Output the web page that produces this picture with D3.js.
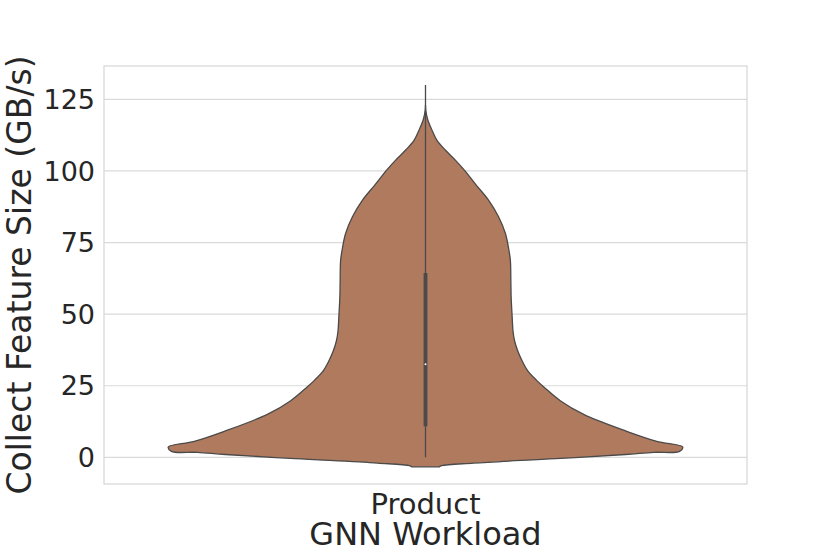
<!DOCTYPE html>
<html>
<head>
<meta charset="utf-8">
<script src="https://cdn.jsdelivr.net/npm/d3@7"></script>
<style>
  body { margin: 0; background: #fff; }
  text { font-family: "DejaVu Sans", sans-serif; fill: #262626; }
</style>
</head>
<body>
<svg id="chart" width="830" height="554"></svg>
<script>
"use strict";

// category and axis
const categories = ["Product"];
const yTicks = [0, 25, 50, 75, 100, 125];

// violin outline: value (GB/s) and relative density
const kdeValues  = [-3.3, -2.9, -2.0, -0.45, 1.0, 1.76, 2.1, 3.6, 5.6, 9.1, 15.0, 19.8, 24.5, 26.8, 30.3, 33.8,
                    37.3, 40.8, 44.3, 49.0, 55.9, 60.7, 68.8, 72.0, 78.1, 84.0, 89.8, 95.0, 100.3, 103.8,
                    107.3, 110.8, 114.3, 117.8, 121.3, 123.0];
const kdeDensity = [0.054, 0.062, 0.187, 0.506, 0.778, 0.887, 0.988, 1.0, 0.899, 0.782, 0.615, 0.524, 0.461, 0.433, 0.397, 0.375,
                    0.358, 0.346, 0.340, 0.337, 0.333, 0.332, 0.330, 0.325, 0.311, 0.284, 0.245, 0.198, 0.151, 0.116,
                    0.077, 0.044, 0.025, 0.009, 0.001, 0.0];

// inner box stats
const whiskerLow = 0;
const whiskerHigh = 130;
const q1 = 10.9;
const median = 32.5;
const q3 = 64.4;

const margin = { left: 104, right: 83, top: 66, bottom: 70 };
const W = 830, H = 554;

var svg = d3.select("#chart");

var x = d3.scaleBand()
    .domain(categories)
    .range([margin.left, W - margin.right])
    .padding(0);

var y = d3.scaleLinear()
    .domain([-9.3, 136.65])
    .range([H - margin.bottom, margin.top]);

var halfWidth = d3.scaleLinear()
    .domain([0, 1])
    .range([0, x.bandwidth() * 0.4]);

// grid
svg.append("g")
    .selectAll("line")
    .data(yTicks)
    .join("line")
        .attr("x1", margin.left)
        .attr("x2", W - margin.right)
        .attr("y1", d => y(d))
        .attr("y2", d => y(d))
        .attr("stroke", "#dadada")
        .attr("stroke-width", 1.2);

// frame
svg.append("rect")
    .attr("x", margin.left)
    .attr("y", margin.top)
    .attr("width", W - margin.left - margin.right)
    .attr("height", H - margin.top - margin.bottom)
    .attr("fill", "none")
    .attr("stroke", "#d6d6d6")
    .attr("stroke-width", 1.2);

// y tick labels
svg.append("g")
    .selectAll("text")
    .data(yTicks)
    .join("text")
        .attr("x", margin.left - 9)
        .attr("y", d => y(d))
        .attr("dy", "0.36em")
        .attr("text-anchor", "end")
        .attr("font-size", 27)
        .text(d => d);

var cx = x("Product") + x.bandwidth() / 2;
var kde = kdeValues.map((v, i) => ({ v: v, d: kdeDensity[i] }));

var area = d3.area()
    .y(d => y(d.v))
    .x0(d => cx - halfWidth(d.d))
    .x1(d => cx + halfWidth(d.d))
    .curve(d3.curveCatmullRom.alpha(0.5));

svg.append("path")
    .datum(kde)
    .attr("d", area)
    .attr("fill", "#b07a5e")
    .attr("stroke", "#4a4a4a")
    .attr("stroke-width", 1.3);

// whisker
svg.append("line")
    .attr("x1", cx).attr("x2", cx)
    .attr("y1", y(whiskerLow)).attr("y2", y(whiskerHigh))
    .attr("stroke", "#4a4a4a")
    .attr("stroke-width", 1.3);

// box
svg.append("line")
    .attr("x1", cx).attr("x2", cx)
    .attr("y1", y(q1)).attr("y2", y(q3))
    .attr("stroke", "#4a4a4a")
    .attr("stroke-width", 3.8);

svg.append("circle")
    .attr("cx", cx)
    .attr("cy", y(median))
    .attr("r", 1)
    .attr("fill", "#fff");

// x tick label
svg.append("text")
    .attr("x", cx)
    .attr("y", 514)
    .attr("text-anchor", "middle")
    .attr("font-size", 29)
    .text(categories[0]);

// axis titles
svg.append("text")
    .attr("x", cx)
    .attr("y", 545)
    .attr("text-anchor", "middle")
    .attr("font-size", 32)
    .text("GNN Workload");

svg.append("text")
    .attr("transform", "translate(31," + ((margin.top + H - margin.bottom) / 2) + ") rotate(-90)")
    .attr("text-anchor", "middle")
    .attr("font-size", 33)
    .text("Collect Feature Size (GB/s)");
</script>
</body>
</html>
